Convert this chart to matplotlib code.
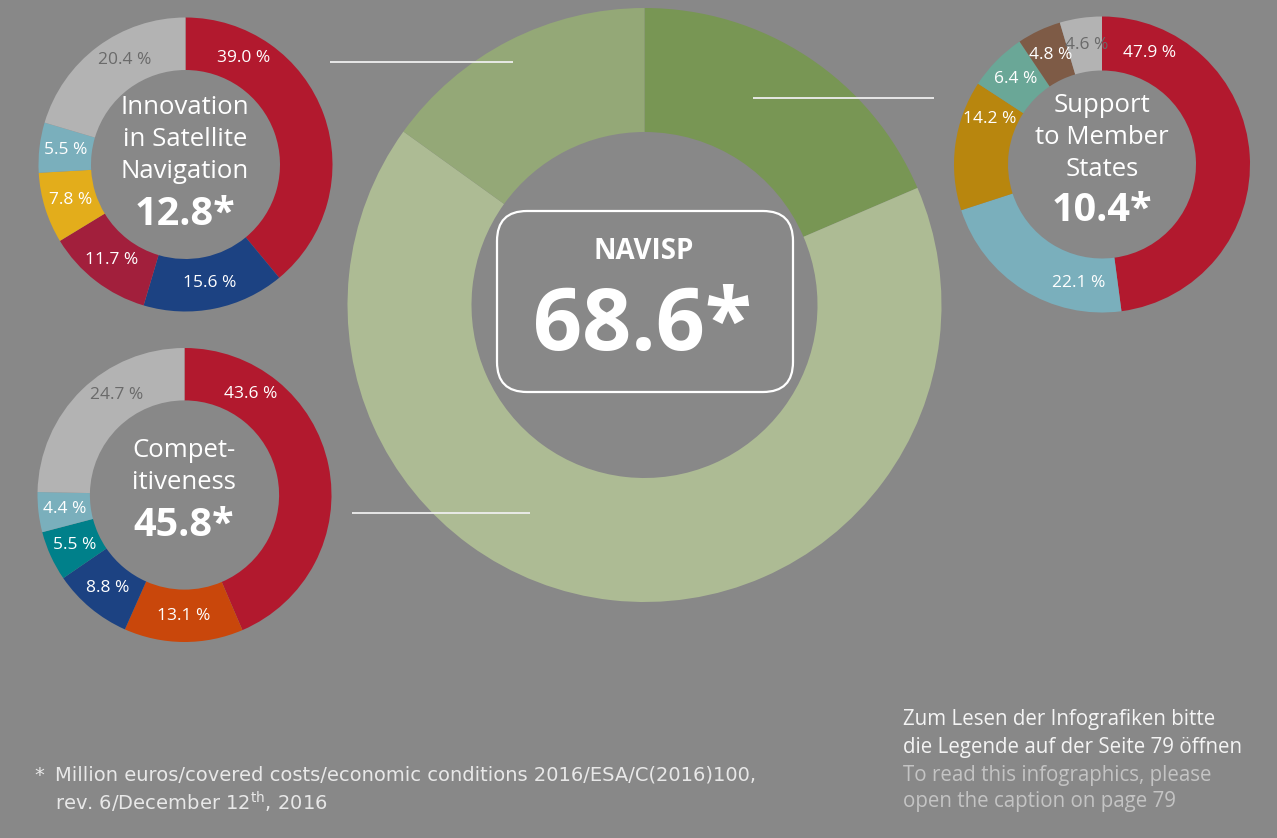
import numpy as np
import matplotlib
matplotlib.use("Agg")
import matplotlib.pyplot as plt
from matplotlib.patches import FancyBboxPatch

W, H = 1277, 838
BG = "#888888"

# --- data ---
navisp_total = "68.6*"
navisp_values = [12.8, 45.8, 10.4]          # clockwise from top
navisp_colors = ["#789654", "#adbb94", "#94a877"]

innov_title = ["Innovation", "in Satellite", "Navigation"]
innov_total = "12.8*"
innov_values = [39.0, 15.6, 11.7, 7.8, 5.5, 20.4]
innov_colors = ["#b2192e", "#1c4282", "#a21f3c", "#e3ad1b", "#7aafbc", "#b3b3b3"]

support_title = ["Support", "to Member", "States"]
support_total = "10.4*"
support_values = [47.9, 22.1, 14.2, 6.4, 4.8, 4.6]
support_colors = ["#b2192e", "#7aafbc", "#b8860e", "#6aa797", "#7e5b46", "#b3b3b3"]

comp_title = ["Compet-", "itiveness"]
comp_total = "45.8*"
comp_values = [43.6, 13.1, 8.8, 5.5, 4.4, 24.7]
comp_colors = ["#b2192e", "#c9470b", "#1c4282", "#00808a", "#7aafbc", "#b3b3b3"]

plt.rcParams['font.family'] = ['Open Sans', 'DejaVu Sans']
plt.rcParams['mathtext.fontset'] = 'custom'
plt.rcParams['mathtext.rm'] = 'DejaVu Sans'

fig = plt.figure(figsize=(W / 100, H / 100), dpi=100, facecolor=BG)
ax = fig.add_axes([0, 0, 1, 1])
ax.set_facecolor(BG)


def Y(y):
    return H - y


def donut(values, colors, cx, cy, r_out, r_in, label_over=None, fs=12.5):
    ax.pie(values, colors=colors, center=(cx, Y(cy)), radius=r_out,
           startangle=90, counterclock=False,
           wedgeprops=dict(width=r_out - r_in, linewidth=0))
    if label_over is None:
        return
    tot = sum(values)
    cum = np.cumsum([0] + values)
    rm = (r_out + r_in) / 2
    for i, v in enumerate(values):
        a = (cum[i] + cum[i + 1]) / 2 / tot * 360
        a = label_over.get(i, a)
        t = np.deg2rad(a)
        x = cx + rm * np.sin(t)
        y = cy - rm * np.cos(t)
        # last slice is the light grey one -> dark label
        col = "#6a6a6a" if i == len(values) - 1 else "white"
        ax.text(x, Y(y), f"{v:.1f} %", ha="center", va="center", color=col, fontsize=fs)


def centre_text(lines, total, cx, y0, dy, ytot):
    for k, s in enumerate(lines):
        ax.text(cx, Y(y0 + k * dy), s, ha="center", va="center", color="white", fontsize=18.5)
    ax.text(cx, Y(ytot), total, ha="center", va="center", color="white",
            fontsize=28.5, fontweight="bold")


# big NAVISP donut
donut(navisp_values, navisp_colors, 644.5, 305, 297, 173)

# small donuts
donut(innov_values, innov_colors, 185.5, 164.5, 147, 94.5, label_over={0: 28.6, 5: 330})
donut(support_values, support_colors, 1102, 164.5, 148, 94, label_over={0: 23.4, 1: 191, 2: 292, 5: 352.5})
donut(comp_values, comp_colors, 184.5, 495, 147, 94.6, label_over={0: 33, 5: 325.6})

centre_text(innov_title, innov_total, 185, 107, 32, 214)
centre_text(support_title, support_total, 1102, 105, 32, 210)
centre_text(comp_title, comp_total, 184, 450, 32, 526)

# connector lines
for x0, x1, y in [(330, 513, 62), (753, 934, 97.5), (352, 530, 513)]:
    ax.plot([x0, x1], [Y(y), Y(y)], color="#eeeeee", lw=1.3, solid_capstyle="butt")

# central box
box = FancyBboxPatch((497, Y(392)), 296, 181, boxstyle="round,pad=0,rounding_size=30",
                     facecolor="none", edgecolor="white", lw=1.6)
ax.add_patch(box)
ax.text(644, Y(251), "NAVISP", ha="center", va="center", color="white",
        fontsize=20, fontweight="bold")
ax.text(642, Y(327), navisp_total, ha="center", va="center", color="white",
        fontsize=62, fontweight="bold")

# footnote
foot = dict(color="#e8e8e8", fontsize=14, family=['DejaVu Sans'], va="center", ha="left")
ax.text(34, Y(775), "*", **foot)
ax.text(55, Y(775), "Million euros/covered costs/economic conditions 2016/ESA/C(2016)100,", **foot)
ax.text(55, Y(802), r"rev. 6/December 12$^{\mathrm{th}}$, 2016", **foot)

# reading note
note = dict(fontsize=14.8, va="center", ha="left")
ax.text(903, Y(720), "Zum Lesen der Infografiken bitte", color="#f4f4f4", **note)
ax.text(903, Y(748), "die Legende auf der Seite 79 öffnen", color="#f4f4f4", **note)
ax.text(903, Y(775), "To read this infographics, please", color="#c4c4c4", **note)
ax.text(903, Y(802), "open the caption on page 79", color="#c4c4c4", **note)

ax.set_xlim(0, W)
ax.set_ylim(0, H)
ax.set_aspect("equal")
ax.axis("off")

fig.savefig("out.png", dpi=100, facecolor=BG)
